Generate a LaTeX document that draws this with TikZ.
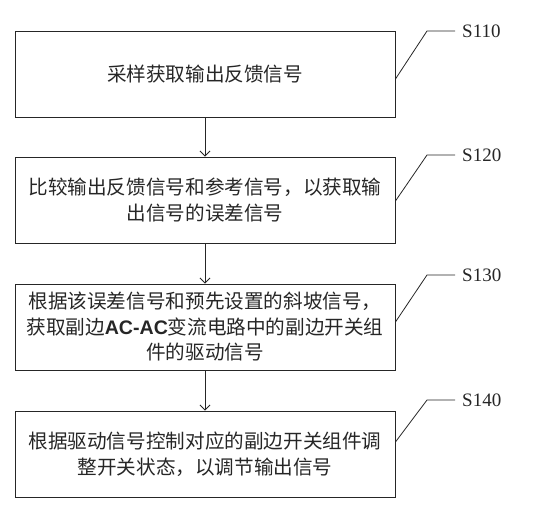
\documentclass[tikz,border=0pt]{standalone}
\usepackage{fontspec}
\setmainfont{Liberation Serif}
\newfontfamily\cjk{Noto Sans CJK SC}
\newfontfamily\latinbold{Liberation Sans}
\usetikzlibrary{arrows.meta,calc}
\tikzset{
  stepbox/.style={draw=black!85, line width=0.9bp, minimum width=380bp, minimum height=86bp,
    inner sep=0pt, align=center, font=\cjk\fontsize{19.6bp}{25.5bp}\selectfont, text=black!85},
  flowarrow/.style={draw=black!85, line width=0.9bp, -{Straight Barb[length=5bp,width=10bp,line width=0.9bp]}},
  leader/.style={draw=black!85, line width=0.8bp},
  steplabel/.style={anchor=base west, inner sep=0pt, font=\fontsize{19bp}{22bp}\selectfont, text=black!85}
}
\newcommand{\acac}{{\latinbold\bfseries AC-AC}}
\begin{document}
\begin{tikzpicture}[x=1bp,y=-1bp]
\useasboundingbox (0,0) rectangle (558,517);
\node[stepbox] (b1) at (205,74) {采样获取输出反馈信号};
\node[stepbox] (b2) at (205,200) {比较输出反馈信号和参考信号，以获取输\\出信号的误差信号};
\node[stepbox] (b3) at (205,327) {根据该误差信号和预先设置的斜坡信号，\\获取副边\acac{}变流电路中的副边开关组\\件的驱动信号};
\node[stepbox] (b4) at (205,454) {根据驱动信号控制对应的副边开关组件调\\整开关状态，以调节输出信号};
\draw[flowarrow] (b1.south) -- (b2.north);
\draw[flowarrow] (b2.south) -- (b3.north);
\draw[flowarrow] (b3.south) -- (b4.north);
% leaders
\coordinate (c1) at (427,31);
\coordinate (e1) at (455,31);
\coordinate (c2) at (427,155);
\coordinate (e2) at (455,155);
\coordinate (c3) at (427,275);
\coordinate (e3) at (455,275);
\coordinate (c4) at (427,400);
\coordinate (e4) at (455,400);
\draw[leader] ($(b1.east)+(0,5)$) -- (c1) -- (e1);
\draw[leader] ($(b2.east)+(0,1)$) -- (c2) -- (e2);
\draw[leader] ($(b3.east)+(0,-5)$) -- (c3) -- (e3);
\draw[leader] ($(b4.east)+(0,-12)$) -- (c4) -- (e4);
\node[steplabel] (l1) at ($(e1)+(7,6.5)$) {S110};
\node[steplabel] (l2) at ($(e2)+(7,6.5)$) {S120};
\node[steplabel] (l3) at ($(e3)+(7,6.5)$) {S130};
\node[steplabel] (l4) at ($(e4)+(7,6.5)$) {S140};
\end{tikzpicture}
\end{document}
